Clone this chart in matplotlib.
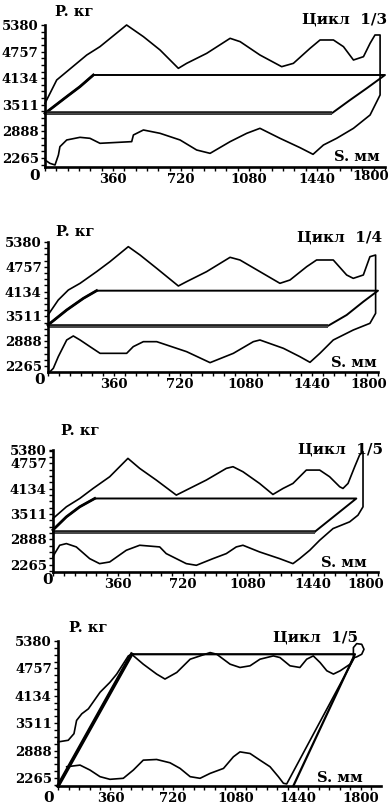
import matplotlib
matplotlib.use('Agg')
import matplotlib.pyplot as plt
import numpy as np
from matplotlib.ticker import FixedLocator, MultipleLocator

# ---------------- data ----------------
y_tick_values = [2265, 2888, 3511, 4134, 4757, 5380]
y_tick_labels = ['2265', '2888', '3511', '4134', '4757', '5380']
x_tick_values = [360, 720, 1080, 1440, 1800]
x_tick_labels = ['360', '720', '1080', '1440', '1800']
cycle_titles = ['Цикл  1/3', 'Цикл  1/4', 'Цикл  1/5', 'Цикл  1/5']
y_title = 'P. кг'
x_title = 'S. мм'

# panel 1 (cycle 1/3)
p1_up_s = [0, 62, 115, 221, 291, 432, 521, 609, 706, 750, 856, 980, 1033, 1138, 1253, 1315, 1403, 1456, 1527, 1580, 1633, 1686, 1721, 1747, 1774]
p1_up_p = [3545, 4092, 4287, 4677, 4873, 5380, 5107, 4795, 4365, 4482, 4716, 5068, 4990, 4677, 4404, 4482, 4833, 5029, 5029, 4873, 4560, 4638, 4951, 5146, 5146]
p1_lo_s = [1774, 1774, 1721, 1633, 1544, 1474, 1419, 1350, 1244, 1138, 1068, 980, 874, 803, 715, 609, 521, 468, 459, 291, 238, 185, 115, 79, 71, 53, 26, 0]
p1_lo_p = [4170, 3741, 3272, 2960, 2726, 2569, 2351, 2507, 2726, 2960, 2843, 2648, 2374, 2452, 2687, 2843, 2921, 2804, 2648, 2609, 2726, 2749, 2687, 2530, 2335, 2101, 2140, 2218]
p1_in_s = [0, 115, 185, 256, 1800, 1703, 1615, 1518, 0]
p1_in_p = [3311, 3702, 3936, 4209, 4209, 3897, 3623, 3311, 3311]

# panel 2 (cycle 1/4)
p2_up_s = [0, 56, 111, 175, 265, 338, 438, 502, 593, 711, 756, 865, 993, 1047, 1156, 1265, 1320, 1411, 1465, 1556, 1629, 1665, 1720, 1756, 1787]
p2_up_p = [3546, 3923, 4174, 4342, 4635, 4886, 5263, 5053, 4718, 4275, 4384, 4635, 4995, 4928, 4635, 4342, 4425, 4760, 4928, 4928, 4551, 4467, 4551, 5011, 5053]
p2_lo_s = [1787, 1787, 1756, 1665, 1556, 1483, 1429, 1374, 1284, 1156, 1120, 1011, 884, 756, 593, 520, 465, 429, 284, 229, 175, 138, 102, 56, 29, 11]
p2_lo_p = [4174, 3588, 3337, 3169, 2918, 2583, 2357, 2499, 2709, 2918, 2876, 2583, 2349, 2625, 2876, 2876, 2751, 2583, 2583, 2751, 2918, 3019, 2918, 2499, 2206, 2123]
p2_in_s = [0, 102, 193, 265, 1800, 1720, 1629, 1529, 0]
p2_in_p = [3295, 3672, 3965, 4157, 4157, 3881, 3546, 3278, 3278]

# panel 3 (cycle 1/5)
p3_up_s = [0, 74, 148, 222, 314, 415, 480, 572, 683, 738, 849, 960, 997, 1052, 1144, 1218, 1274, 1329, 1403, 1477, 1532, 1588, 1606, 1634, 1671, 1698, 1717]
p3_up_p = [3400, 3688, 3893, 4140, 4428, 4880, 4634, 4346, 3976, 4099, 4346, 4634, 4675, 4551, 4263, 3992, 4140, 4263, 4592, 4592, 4428, 4181, 4140, 4263, 4675, 4962, 5045]
p3_lo_s = [1717, 1717, 1689, 1643, 1551, 1477, 1422, 1366, 1329, 1255, 1144, 1052, 1015, 960, 886, 794, 738, 627, 591, 480, 406, 314, 258, 203, 129, 74, 37, 9, 0]
p3_lo_p = [3893, 3688, 3482, 3318, 3153, 2865, 2619, 2413, 2290, 2413, 2578, 2742, 2701, 2537, 2413, 2249, 2290, 2537, 2701, 2742, 2619, 2331, 2290, 2413, 2701, 2783, 2742, 2536, 2454]
p3_in_s = [0, 74, 148, 231, 1680, 1449, 0]
p3_in_p = [3120, 3441, 3688, 3893, 3893, 3071, 3071]

# panel 4 (cycle 1/5, second programme)
p4_up_s = [58, 117, 150, 165, 195, 233, 300, 357, 396, 463, 482, 549, 626, 674, 742, 819, 934, 972, 1049, 1106, 1164, 1221, 1298, 1336, 1394, 1451, 1490, 1528, 1567, 1606, 1644, 1683, 1740, 1759]
p4_up_p = [3085, 3123, 3273, 3574, 3725, 3838, 4214, 4440, 4628, 5041, 5079, 4853, 4628, 4515, 4665, 4966, 5117, 5079, 4853, 4778, 4816, 4966, 5041, 5004, 4816, 4778, 4966, 5041, 4891, 4703, 4628, 4703, 4853, 5004]
p4_loop_s = [1759, 1778, 1807, 1820, 1807, 1778, 1765]
p4_loop_p = [5230, 5320, 5305, 5192, 5079, 5019, 5004]
p4_lo_s = [1375, 1356, 1327, 1279, 1221, 1164, 1106, 1068, 1011, 934, 876, 819, 761, 703, 626, 549, 492, 434, 357, 300, 242, 185, 108]
p4_lo_p = [2130, 2145, 2295, 2521, 2671, 2822, 2859, 2747, 2483, 2370, 2258, 2295, 2483, 2611, 2686, 2671, 2446, 2258, 2235, 2295, 2446, 2558, 2521]
p4_frame_s = [58, 482, 1768, 1413]
p4_frame_p = [2083, 5079, 5079, 2083]

# ---------------- layout ----------------
W, H = 392, 810
FONT = ['DejaVu Serif']
plt.rcParams['font.family'] = FONT
plt.rcParams['font.weight'] = 'bold'

fig = plt.figure(figsize=(W / 100, H / 100), dpi=100)
fig.patch.set_facecolor('white')

panels = [
    dict(box=(45, 25, 385, 167), xlim=(0, 1800), ylim=(2054, 5380), end_right=True,
         title_xy=(387, 19), ptitle_xy=(74, 12), stitle_xy=(380, 157), zero_xy=(35, 176), end_xy=(389, 176)),
    dict(box=(48, 242, 378, 372), xlim=(0, 1800), ylim=(2114, 5380), end_right=True,
         title_xy=(382, 238), ptitle_xy=(75, 232), stitle_xy=(377, 363), zero_xy=(40, 380), end_xy=(387, 385)),
    dict(box=(53, 450, 378, 572), xlim=(0, 1800), ylim=(2084, 5086), end_right=True,
         title_xy=(383, 449), ptitle_xy=(80, 431), stitle_xy=(367, 563), zero_xy=(48, 580), end_xy=(384, 585)),
    dict(box=(58, 641, 381, 786), xlim=(58, 1918), ylim=(2083, 5380), end_right=False,
         title_xy=(358, 637), ptitle_xy=(88, 628), stitle_xy=(363, 778), zero_xy=(49, 798), end_xy=None),
]


def fx(x):
    return x / W


def fy(y):
    return 1 - y / H


axes = []
for i, cfg in enumerate(panels):
    l, t, r, b = cfg['box']
    ax = fig.add_axes([fx(l), fy(b), (r - l) / W, (b - t) / H])
    ax.set_facecolor('none')
    ax.set_xlim(*cfg['xlim'])
    ax.set_ylim(*cfg['ylim'])
    for side in ('top', 'right'):
        ax.spines[side].set_visible(False)
    for side in ('left', 'bottom'):
        ax.spines[side].set_linewidth(1.9)
        ax.spines[side].set_color('black')
    # y ticks: the top label sits at the axis top
    ypos = y_tick_values[:-1] + [cfg['ylim'][1]]
    ax.yaxis.set_major_locator(FixedLocator(ypos))
    ax.set_yticklabels(y_tick_labels)
    yminor = np.arange(y_tick_values[0] - 623, cfg['ylim'][1], 623 / 4)
    ax.yaxis.set_minor_locator(FixedLocator(yminor))
    # x ticks
    if cfg['end_right']:
        xv, xl = x_tick_values[:-1], x_tick_labels[:-1]
    else:
        xv, xl = x_tick_values, x_tick_labels
    ax.xaxis.set_major_locator(FixedLocator(xv))
    ax.set_xticklabels(xl)
    ax.xaxis.set_minor_locator(MultipleLocator(60))
    ax.tick_params(axis='both', which='both', direction='out', length=3, width=1, color='black')
    ax.tick_params(axis='both', which='major', labelsize=9.5, pad=1.5)
    for lab in ax.get_xticklabels() + ax.get_yticklabels():
        lab.set_fontweight('bold')
        lab.set_fontfamily(FONT)
    axes.append(ax)

    # texts
    fig.text(fx(cfg['ptitle_xy'][0]), fy(cfg['ptitle_xy'][1]), y_title, ha='center', va='center',
             fontsize=10.5, fontweight='bold')
    fig.text(fx(cfg['title_xy'][0]), fy(cfg['title_xy'][1]), cycle_titles[i], ha='right', va='center',
             fontsize=11, fontweight='bold')
    fig.text(fx(cfg['stitle_xy'][0]), fy(cfg['stitle_xy'][1]), x_title, ha='right', va='center',
             fontsize=10.5, fontweight='bold')
    fig.text(fx(cfg['zero_xy'][0]), fy(cfg['zero_xy'][1]), '0', ha='center', va='center',
             fontsize=11, fontweight='bold')
    if cfg['end_xy'] is not None:
        fig.text(fx(cfg['end_xy'][0]), fy(cfg['end_xy'][1]), x_tick_labels[-1], ha='right', va='center',
                 fontsize=9.5, fontweight='bold')

LW = 1.2

# panels 1-3: outer curve loop + inner parallelogram
for ax, us, up, ls, lp, ins, inp in [
    (axes[0], p1_up_s, p1_up_p, p1_lo_s, p1_lo_p, p1_in_s, p1_in_p),
    (axes[1], p2_up_s, p2_up_p, p2_lo_s, p2_lo_p, p2_in_s, p2_in_p),
    (axes[2], p3_up_s, p3_up_p, p3_lo_s, p3_lo_p, p3_in_s, p3_in_p),
]:
    ax.plot(us + ls, up + lp, color='black', lw=LW, clip_on=False, solid_joinstyle='round')
    ax.plot(ins, inp, color='black', lw=1.4, clip_on=False)
    ax.plot(ins[:4], inp[:4], color='black', lw=2.0, clip_on=False)
    ax.plot(ins[-2:], inp[-2:], color='#1e1e1e', lw=2.6, clip_on=False, solid_capstyle='butt')
    ax.plot(ins[-2:], inp[-2:], color='#4a4a4a', lw=0.7, clip_on=False, solid_capstyle='butt')

# panel 4
ax = axes[3]
ax.plot(p4_frame_s, p4_frame_p, color='black', lw=1.6, clip_on=False)
ax.plot(p4_frame_s[:2], p4_frame_p[:2], color='black', lw=2.6, clip_on=False)
ax.plot(p4_up_s + p4_loop_s + p4_lo_s, p4_up_p + p4_loop_p + p4_lo_p, color='black', lw=LW,
        clip_on=False, solid_joinstyle='round')

fig.savefig('out.png', dpi=100, facecolor='white')
